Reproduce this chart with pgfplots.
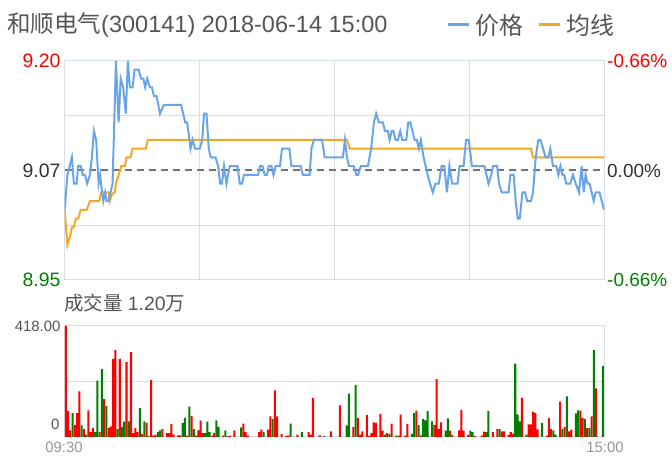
\documentclass[border=0pt]{standalone}
\usepackage{pgfplots}
\pgfplotsset{compat=1.18}
\usepackage{fontspec}
\setmainfont{Liberation Sans}
\newfontfamily\cjk{Noto Sans CJK SC}
\definecolor{lineblue}{RGB}{106,165,232}
\definecolor{lineorange}{RGB}{245,168,40}
\definecolor{gridc}{RGB}{214,221,233}
\definecolor{txtgray}{RGB}{85,85,85}
\definecolor{lightgray}{RGB}{150,150,150}
\definecolor{upred}{RGB}{255,0,0}
\definecolor{downgreen}{RGB}{0,128,0}
\definecolor{dashc}{RGB}{115,115,115}
\begin{document}
\begin{tikzpicture}[x=1bp,y=1bp]
\useasboundingbox (0,0) rectangle (672,457);
% title and legend
\node[anchor=west, text=txtgray, inner sep=0pt, font=\fontsize{23.6}{23.6}\selectfont] at (7,432) {{\cjk 和顺电气}(300141) 2018-06-14 15:00};
\draw[lineblue, line width=3bp] (448,432) -- (469,432);
\node[anchor=west, text=txtgray, inner sep=0pt, font=\fontsize{24}{24}\selectfont\cjk] at (475,432) {价格};
\draw[lineorange, line width=3bp] (539,432) -- (560,432);
\node[anchor=west, text=txtgray, inner sep=0pt, font=\fontsize{24}{24}\selectfont\cjk] at (566,432) {均线};
% price panel
\begin{axis}[at={(64.7bp,177bp)}, anchor=south west, scale only axis,
  width=539.3bp, height=219bp, xmin=0, xmax=240, ymin=8.95, ymax=9.20,
  axis line style={draw=gridc, line width=1bp},
  xtick={60,120,180}, ytick={9.0125,9.1375}, xticklabels={}, yticklabels={},
  major tick length=0pt, grid=major, grid style={gridc, line width=1bp},
  clip mode=individual]
\addplot[dashc, line width=2bp, dash pattern=on 7bp off 5bp] coordinates {(0,9.075) (240,9.075)};
\addplot[lineorange, line width=2bp] coordinates {
(0,9.03) (1.2,8.99) (2.4,9.00) (3.2,9.01) (4,9.01) (5,9.02) (6,9.02) (7.1,9.03) (9.8,9.03)
(11.2,9.04) (15.4,9.04) (16.2,9.05) (19.5,9.05) (20.1,9.04) (21,9.048) (22.2,9.05) (22.8,9.06)
(24,9.07) (25.2,9.08) (26.8,9.08) (27.5,9.09) (29.3,9.09) (30.2,9.10) (36.1,9.10) (37,9.11)
(125.6,9.11) (126.8,9.10) (207.5,9.10) (208.4,9.09) (240,9.09)};
\addplot[lineblue, line width=2bp] coordinates {
(0,9.03) (1.2,9.07) (3.2,9.09) (4.1,9.06) (5.3,9.06) (6,9.08) (7.2,9.08) (8,9.07) (9,9.07)
(10,9.06) (11.2,9.07) (12.1,9.09) (13,9.12) (14,9.11) (15.1,9.06) (15.8,9.07) (16.6,9.05)
(17.2,9.04) (18,9.05) (18.7,9.04) (19.5,9.04) (20.4,9.05) (21.3,9.06) (22.8,9.20) (24,9.13)
(24.9,9.18) (26,9.17) (27.2,9.14) (28.1,9.20) (29,9.17) (30.2,9.17) (31.1,9.19) (32.9,9.19)
(34,9.18) (35,9.18) (35.8,9.17) (36.7,9.18) (37.9,9.17) (38.8,9.17) (39.7,9.16) (40.9,9.16)
(42.4,9.14) (44.2,9.15) (51.8,9.15) (53.6,9.13) (54.5,9.13) (56,9.10) (56.9,9.11) (58,9.10)
(60.1,9.10) (61.2,9.11) (62,9.14) (63.1,9.14) (64.1,9.10) (65,9.09) (67.1,9.09) (68.3,9.08)
(69.2,9.06) (70,9.06) (70.9,9.08) (72,9.06) (72.7,9.07) (73.5,9.08) (76.9,9.08) (77.9,9.06)
(78.9,9.06) (79.8,9.07) (86.1,9.07) (86.9,9.08) (88,9.08) (89,9.07) (90,9.07) (90.8,9.08)
(92,9.08) (92.9,9.07) (93.8,9.08) (95.8,9.08) (96.7,9.10) (100,9.10) (100.9,9.08) (105,9.08)
(106,9.07) (109,9.07) (109.8,9.10) (110.9,9.11) (114.5,9.11) (115.7,9.09) (123.8,9.09)
(124.7,9.11) (125.6,9.09) (126.5,9.08) (128.6,9.08) (129.8,9.07) (130.6,9.07) (131.8,9.08)
(134.9,9.08) (136.4,9.10) (137.6,9.13) (138.6,9.14) (139.8,9.13) (141.6,9.13) (142.5,9.12)
(143.8,9.12) (144.6,9.11) (145.5,9.12) (146.3,9.12) (147.2,9.11) (148.3,9.11) (149.3,9.12)
(150.2,9.11) (152,9.11) (152.9,9.13) (153.8,9.13) (155.7,9.11) (156.7,9.11) (157.6,9.10)
(158.5,9.11) (159.7,9.09) (161.5,9.07) (162.6,9.06) (163.8,9.05) (165,9.06) (166.5,9.06)
(167.7,9.08) (168.9,9.08) (170.1,9.05) (171.2,9.08) (172.4,9.06) (174.8,9.06) (175.7,9.08)
(177.5,9.08) (178.6,9.11) (179.8,9.11) (180.3,9.10) (181.2,9.08) (186.8,9.08) (187.7,9.07)
(188.6,9.06) (189.8,9.07) (190.6,9.08) (192.4,9.08) (193.3,9.06) (194.5,9.05) (197.5,9.05)
(198.3,9.07) (199.8,9.07) (200.7,9.04) (201.6,9.02) (202.5,9.02) (203.7,9.05) (204.9,9.05)
(205.8,9.04) (207.5,9.04) (208.4,9.05) (209.6,9.09) (210.8,9.11) (211.7,9.11) (212.9,9.10)
(214,9.09) (215.2,9.09) (216.1,9.10) (217.3,9.08) (218.8,9.08) (219.7,9.07) (220.6,9.08)
(221.5,9.07) (222.3,9.07) (223.2,9.06) (225,9.06) (226.2,9.07) (227.4,9.06) (228.9,9.05)
(230,9.08) (231,9.05) (231.8,9.07) (232.7,9.06) (233.6,9.06) (234.5,9.05) (235.4,9.04)
(236.3,9.05) (238,9.05) (240,9.03)};
\node[anchor=east, text=upred, inner sep=0pt, font=\fontsize{19.5}{19.5}\selectfont] at (rel axis cs:0,1) [xshift=-4bp] {9.20};
\node[anchor=east, text=black!80, inner sep=0pt, font=\fontsize{19.5}{19.5}\selectfont] at (rel axis cs:0,0.5) [xshift=-4bp] {9.07};
\node[anchor=east, text=downgreen, inner sep=0pt, font=\fontsize{19.5}{19.5}\selectfont] at (rel axis cs:0,0) [xshift=-4bp] {8.95};
\node[anchor=west, text=upred, inner sep=0pt, font=\fontsize{19}{19}\selectfont] at (rel axis cs:1,1) [xshift=3bp] {-0.66\%};
\node[anchor=west, text=black!80, inner sep=0pt, font=\fontsize{19}{19}\selectfont] at (rel axis cs:1,0.5) [xshift=3bp] {0.00\%};
\node[anchor=west, text=downgreen, inner sep=0pt, font=\fontsize{19}{19}\selectfont] at (rel axis cs:1,0) [xshift=3bp] {-0.66\%};
\end{axis}
% volume title
\node[anchor=west, text=txtgray, inner sep=0pt, font=\fontsize{19.5}{19.5}\selectfont] at (64,154) {{\cjk 成交量} 1.20{\cjk 万}};
% volume panel
\begin{axis}[at={(64.7bp,20bp)}, anchor=south west, scale only axis,
  width=539.3bp, height=111bp, xmin=0, xmax=240, ymin=0, ymax=418,
  axis line style={draw=gridc, line width=1bp},
  xtick=\empty, ytick={209}, yticklabels={},
  major tick length=0pt, ymajorgrids, grid style={gridc, line width=1bp},
  clip mode=individual]
\addplot[ybar, bar width=0.9, bar shift=0pt, fill=upred, draw=none] coordinates {
(0.5,418) (1.5,97) (2.5,25) (4.5,46) (5.5,90) (6.5,172) (8.5,30) (10.5,100) (11.5,18) (12.5,34)
(15.5,18) (17.5,143) (19.5,34) (20.5,40) (21.5,294) (22.5,327) (24.5,294) (27.5,282) (29.5,320)
(30.5,15) (31.5,33) (32.5,18) (34.5,12) (36.5,53) (38.5,214) (39.5,5) (40.5,9) (43.5,30)
(45.5,15) (46.5,15) (47.5,49) (48.5,9) (50.5,6) (51.5,6) (54.5,5) (56.5,80) (58.5,5) (59.5,25)
(60.5,62) (61.5,15) (65.5,5) (66.5,15) (70.5,5) (72.5,3) (73.5,5) (75.5,25)
(79.5,50) (80.5,18) (81.5,5) (86.5,18) (87.5,28) (90.5,28) (91.5,78) (93.5,176) (94.5,78)
(96.5,12) (98.5,3) (99.5,6) (103.5,9) (108.5,18) (109.5,9) (110.5,147) (113.5,6) (118.5,21)
(122.5,119) (128.5,38) (130.5,72) (131.5,9) (132.5,21) (134.5,82) (135.5,3) (136.5,15)
(137.5,55) (138.5,53) (140.5,87) (141.5,24) (143.5,15) (145.5,50) (148.5,5) (149.5,84)
(151.5,5) (152.5,49) (156.5,99) (158.5,6)
(164.5,46) (165.5,218) (166.5,30) (167.5,55) (171.5,24) (175.5,25) (176.5,102) (177.5,24)
(179.5,8) (182.5,3) (185.5,5) (186.5,20) (190.5,18) (192.5,30) (194.5,21) (195.5,21) (197.5,8)
(198.5,18) (199.5,12) (203.5,147) (206.5,48) (207.5,48) (208.5,96) (209.5,90) (210.5,29)
(214.5,5) (215.5,72) (216.5,30) (220.5,133) (222.5,38) (224.5,21) (225.5,28) (229.5,99)
(230.5,72) (232.5,33) (234.5,78) (236.5,183)};
\addplot[ybar, bar width=0.9, bar shift=0pt, fill=downgreen, draw=none] coordinates {
(3.5,90) (7.5,44) (9.5,9) (13.5,18) (14.5,212) (16.5,256) (18.5,116) (23.5,30) (25.5,38)
(26.5,58) (28.5,59) (33.5,109) (35.5,59) (37.5,3) (41.5,18) (42.5,25) (52.5,53) (53.5,72)
(55.5,114) (57.5,30) (62.5,15) (63.5,58) (64.5,18) (67.5,63) (68.5,38) (71.5,25)
(78.5,36) (88.5,18) (92.5,68) (100.5,50) (105.5,18) (115.5,3) (125.5,44) (126.5,163)
(129.5,196) (142.5,9) (144.5,11) (147.5,5) (154.5,12) (155.5,90) (157.5,45) (159.5,68)
(160.5,63) (161.5,98) (163.5,59) (169.5,24) (170.5,70) (172.5,8) (180.5,24) (181.5,18)
(187.5,18) (188.5,98) (193.5,30) (200.5,276) (201.5,85) (202.5,59) (205.5,9) (212.5,53)
(217.5,25) (218.5,9) (221.5,30) (223.5,153) (227.5,89) (228.5,100) (231.5,68) (233.5,34)
(235.5,327) (239.5,268)};
\node[anchor=east, text=txtgray, inner sep=0pt, font=\fontsize{15}{15}\selectfont] at (rel axis cs:0,1) [xshift=-4bp] {418.00};
\node[anchor=east, text=txtgray, inner sep=0pt, font=\fontsize{15}{15}\selectfont] at (axis cs:0,49) [xshift=-5bp] {0};
\end{axis}
\node[text=lightgray, inner sep=0pt, font=\fontsize{15}{15}\selectfont] at (64,10) {09:30};
\node[text=lightgray, inner sep=0pt, font=\fontsize{15}{15}\selectfont] at (605,10) {15:00};
\end{tikzpicture}
\end{document}
